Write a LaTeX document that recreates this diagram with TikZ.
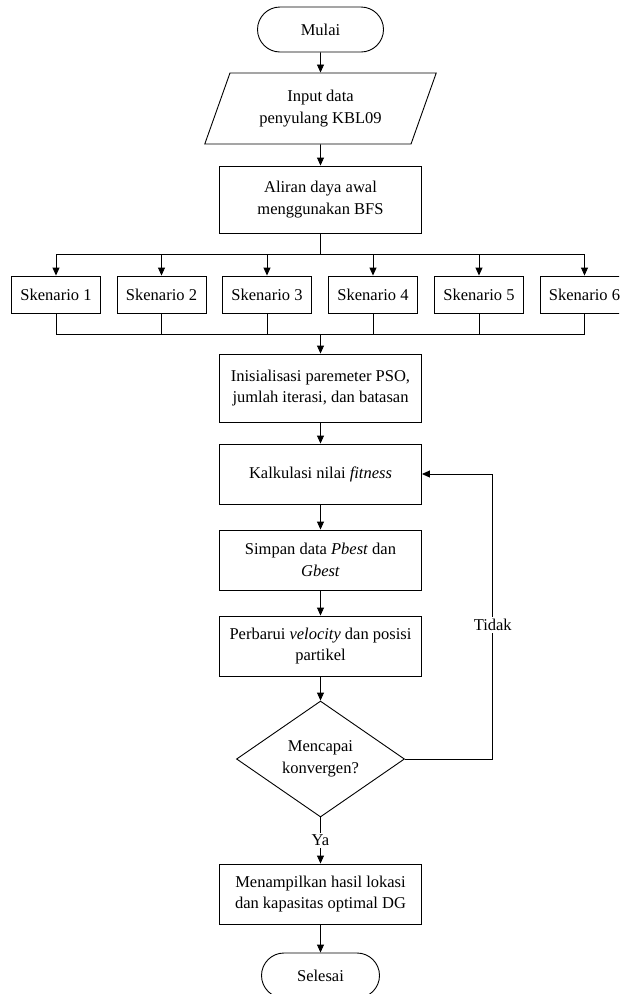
\documentclass[tikz,border=0pt]{standalone}
\usepackage{fontspec}
\setmainfont{Liberation Serif}
\usetikzlibrary{shapes.geometric,shapes.misc,arrows.meta}
\begin{document}
\begin{tikzpicture}[x=1pt,y=-1pt,
  font=\fontsize{16.5}{21.5}\selectfont,
  line width=0.9pt,
  box/.style={draw, rectangle, minimum width=202pt, minimum height=60pt, align=center, inner sep=2pt},
  term/.style={draw, rounded rectangle, minimum height=45pt, inner sep=0pt},
  scen/.style={draw, rectangle, minimum width=89pt, minimum height=37pt, inner sep=0pt},
  arr/.style={-{Triangle[length=8pt,width=7pt]}},
  lbl/.style={fill=white, inner sep=2pt}]
\clip (0,0) rectangle (619,994);
\useasboundingbox (0,0) rectangle (619,994);

\node[term, minimum width=126pt] (start) at (320.5,29.5) {Mulai};
\node[draw, trapezium, trapezium left angle=65, trapezium right angle=115,
      trapezium stretches=true, minimum width=232pt, minimum height=71pt,
      align=center, inner sep=0pt] (input) at (320.5,108.5) {Input data\\penyulang KBL09};
\node[box, minimum height=67pt] (aliran) at (320.5,199.5) {Aliran daya awal\\menggunakan BFS};
\coordinate (br) at (320.5,254);
\node[scen] (s1) at (56,294.5) {Skenario 1};
\node[scen] (s2) at (161.5,294.5) {Skenario 2};
\node[scen] (s3) at (267,294.5) {Skenario 3};
\node[scen] (s4) at (373,294.5) {Skenario 4};
\node[scen] (s5) at (479,294.5) {Skenario 5};
\node[scen] (s6) at (584.5,294.5) {Skenario 6};
\coordinate (jn) at (320.5,334);
\node[box, minimum height=68pt] (init) at (320.5,388) {Inisialisasi paremeter PSO,\\jumlah iterasi, dan batasan};
\node[box] (kalk) at (320.5,474) {Kalkulasi nilai \textit{fitness}};
\node[box] (simpan) at (320.5,560) {Simpan data \textit{Pbest} dan\\\textit{Gbest}};
\node[box] (perb) at (320.5,646) {Perbarui \textit{velocity} dan posisi\\partikel};
\node[draw, diamond, minimum width=168pt, minimum height=116pt, inner sep=0pt, align=center] (dec) at (320.5,759) {Mencapai\\konvergen?};
\node[box] (mena) at (320.5,894) {Menampilkan hasil lokasi\\dan kapasitas optimal DG};
\node[term, minimum width=118pt] (end) at (320.5,975.5) {Selesai};

\coordinate (lpA) at (492.7,759);
\coordinate (lpB) at (492.7,474);

\draw[arr] (start.south) -- (input.north);
\draw[arr] (input.south) -- (aliran.north);
\draw (aliran.south) -- (br);
\foreach \s in {s1,s2,s3,s4,s5,s6}{
  \draw[arr] (br) -| (\s.north);
  \draw (\s.south) |- (jn);
}
\draw[arr] (jn) -- (init.north);
\draw[arr] (init.south) -- (kalk.north);
\draw[arr] (kalk.south) -- (simpan.north);
\draw[arr] (simpan.south) -- (perb.north);
\draw[arr] (perb.south) -- (dec.north);
\draw[arr] (dec.south) -- node[lbl]{Ya} (mena.north);
\draw[arr] (mena.south) -- (end.north);
\draw[arr] (dec.east) -- (lpA) -- node[lbl,pos=0.47]{Tidak} (lpB) -- (kalk.east);
\end{tikzpicture}
\end{document}
